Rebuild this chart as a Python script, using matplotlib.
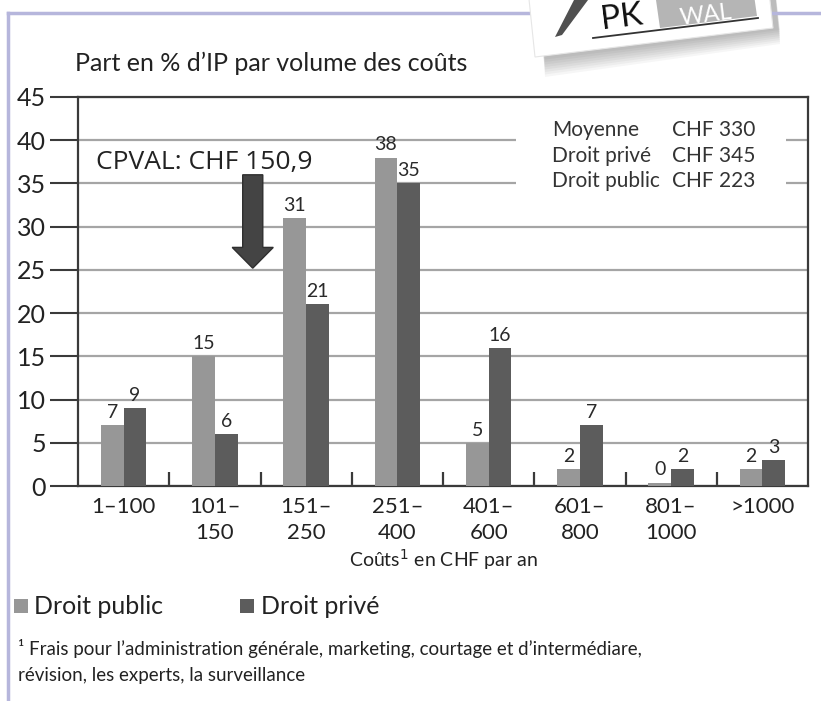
import matplotlib
matplotlib.use("Agg")
import matplotlib.pyplot as plt
from matplotlib.patches import Rectangle, Polygon, FancyArrow
import numpy as np

plt.rcParams['font.family'] = ['Lato', 'DejaVu Sans']

# ---- data ----
categories = ["1–100", "101–\n150", "151–\n250", "251–\n400", "401–\n600",
              "601–\n800", "801–\n1000", ">1000"]
droit_public = [7, 15, 31, 38, 5, 2, 0.4, 2]
droit_prive = [9, 6, 21, 35, 16, 7, 2, 3]
y_ticks = [0, 5, 10, 15, 20, 25, 30, 35, 40, 45]
title = "Part en % d’IP par volume des coûts"
xlabel = "Coûts$^{1}$ en CHF par an"
info_rows = [("Moyenne", "CHF 330"), ("Droit privé", "CHF 345"), ("Droit public", "CHF 223")]
cpval_text = "CPVAL: CHF 150,9"
cpval_pos = 1.415          # category position of CHF 150.9
cpval_top, cpval_tip = 36, 25.2
legend_labels = ["Droit public", "Droit privé"]
footnote = ["¹ Frais pour l’administration générale, marketing, courtage et d’intermédiare,",
            "révision, les experts, la surveillance"]

c_pub = "#979797"
c_priv = "#5c5c5c"
dark = "#3a3a3a"

W, H = 821, 701
fig = plt.figure(figsize=(W / 100, H / 100), dpi=100)
fig.patch.set_facecolor("white")

# ---- decoration overlay (frame + logo) ----
deco = fig.add_axes([0, 0, 1, 1], zorder=0)
deco.set_xlim(0, W)
deco.set_ylim(H, 0)
deco.axis("off")
frame_c = "#b6b6dc"
deco.plot([8, 8], [13, H], color=frame_c, lw=2.5)
deco.plot([8, 540], [13, 13], color=frame_c, lw=2.5)
deco.plot([770, W], [13, 13], color=frame_c, lw=2.5)

# logo card with soft shadow
for i in range(8):
    off = 20 - i * 2.5
    deco.add_patch(Polygon([(530 + off * 0.4, -20), (545, 57 + off),
                            (780, 28 + off * 0.8), (772, -40)],
                           closed=True, facecolor="black", alpha=0.035, lw=0, zorder=1))
deco.add_patch(Polygon([(527, -20), (535, 57), (773, 28), (765, -45)], closed=True,
                       facecolor="white", edgecolor="#e6e6e6", lw=0.8, zorder=2))
deco.add_patch(Polygon([(555, 37), (574, 0), (588, 0), (562, 35)], closed=True,
                       facecolor="#505050", lw=0, zorder=3))
deco.plot([593, 758], [38, 18], color="#333333", lw=1.3, zorder=3)
deco.text(622, 18, "PK", fontsize=24, color="#111111", rotation=7,
          ha="center", va="center", zorder=4)
deco.add_patch(Polygon([(660, 28), (757, 16), (753, -12), (656, 0)], closed=True,
                       facecolor="#b5b5b5", lw=0, zorder=3))
deco.text(706, 15, "WAL", fontsize=17, color="white", rotation=7,
          ha="center", va="center", zorder=4)

# ---- main axes ----
ax = fig.add_axes([78 / W, 1 - 486 / H, (808 - 78) / W, (486 - 97) / H], zorder=2)
x = np.arange(len(categories))
bw = 0.25
b1 = ax.bar(x - bw / 2, droit_public, bw, color=c_pub, zorder=3, lw=0)
b2 = ax.bar(x + bw / 2, droit_prive, bw, color=c_priv, zorder=3, lw=0)
for bars, vals in ((b1, droit_public), (b2, droit_prive)):
    for r, v in zip(bars, vals):
        ax.annotate(f"{round(v):d}", (r.get_x() + r.get_width() / 2, r.get_height()),
                    xytext=(0, 3), textcoords="offset points", ha="center", va="bottom",
                    fontsize=14, color="#2a2a2a", zorder=5)

ax.set_xlim(-0.5, len(categories) - 0.5)
ax.set_ylim(0, 45)
ax.set_yticks(y_ticks)
ax.set_yticklabels([str(t) for t in y_ticks], fontsize=18, color="#222222")
ax.set_xticks(x)
ax.set_xticklabels(categories, fontsize=16, color="#222222", linespacing=1.35)
ax.set_xticks(np.arange(len(categories) - 1) + 0.5, minor=True)
ax.tick_params(axis="x", which="major", length=0, pad=8)
ax.tick_params(axis="x", which="minor", direction="in", length=10, width=1.6, color=dark)
ax.tick_params(axis="y", direction="out", length=20, width=1.5, color=dark, pad=3)
ax.yaxis.grid(True, color="#a5a5a5", lw=1.6, zorder=1)
ax.set_axisbelow(True)
for s in ax.spines.values():
    s.set_color(dark)
    s.set_linewidth(1.6)

# info box
ax.add_patch(Rectangle((0.6, 0.725), 0.37, 0.245, transform=ax.transAxes,
                       facecolor="white", edgecolor="none", zorder=2))
for i, (k, v) in enumerate(info_rows):
    yy = 0.915 - i * 0.066
    ax.text(0.649, yy, k, transform=ax.transAxes, fontsize=15, color="#333333",
            va="center", ha="left", zorder=4)
    ax.text(0.814, yy, v, transform=ax.transAxes, fontsize=15, color="#333333",
            va="center", ha="left", zorder=4)

# CPVAL annotation
ax.text(0.024, (486 - 163) / 389, cpval_text, transform=ax.transAxes, fontsize=19,
        family=["Open Sans", "DejaVu Sans"], color="#222222", va="center", ha="left", zorder=6)
ax.add_patch(FancyArrow(cpval_pos, cpval_top, 0, cpval_tip - cpval_top, width=0.22,
                        head_width=0.45, head_length=2.4, length_includes_head=True,
                        facecolor="#444444", edgecolor="#2f2f2f", lw=1, zorder=6))

# title, x label, legend, footnote
fig.text(75 / W, 1 - 63 / H, title, fontsize=18, color="#222222", va="center", ha="left")
fig.text(443 / W, 1 - 560 / H, xlabel, fontsize=14, color="#222222", va="center", ha="center")

ly = 1 - 606 / H
for xs, xt, lab, c in ((14, 34, legend_labels[0], c_pub), (240, 261, legend_labels[1], c_priv)):
    fig.patches.append(Rectangle((xs / W, 1 - 613 / H), 14 / W, 14 / H,
                                 transform=fig.transFigure, facecolor=c, edgecolor="none"))
    fig.text(xt / W, ly, lab, fontsize=18, color="#222222", va="center", ha="left")
fig.text(18 / W, 1 - 648 / H, footnote[0], fontsize=13.5, color="#222222", va="center", ha="left")
fig.text(18 / W, 1 - 675 / H, footnote[1], fontsize=13.5, color="#222222", va="center", ha="left")

fig.savefig("out.png", dpi=100, facecolor="white")
